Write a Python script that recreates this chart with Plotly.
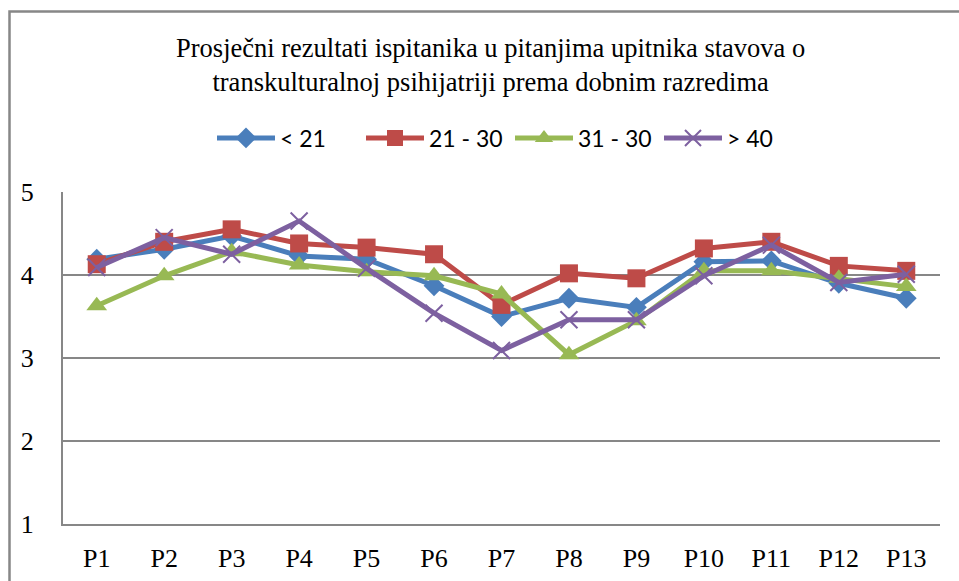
import plotly.graph_objects as go

categories = ["P1", "P2", "P3", "P4", "P5", "P6", "P7", "P8", "P9", "P10", "P11", "P12", "P13"]
series_names = ["< 21", "21 - 30", "31 - 30", "> 40"]
s_lt21 = [4.19, 4.31, 4.47, 4.23, 4.19, 3.87, 3.50, 3.72, 3.61, 4.16, 4.17, 3.90, 3.72]
s_21_30 = [4.13, 4.40, 4.55, 4.38, 4.33, 4.25, 3.64, 4.02, 3.96, 4.32, 4.40, 4.11, 4.05]
s_31_30 = [3.63, 3.99, 4.28, 4.12, 4.04, 3.99, 3.77, 3.04, 3.45, 4.05, 4.05, 3.96, 3.86]
s_gt40 = [4.09, 4.45, 4.25, 4.65, 4.08, 3.54, 3.09, 3.46, 3.46, 3.99, 4.36, 3.91, 4.01]
y_ticks = [1, 2, 3, 4, 5]
title_text = ("Prosječni rezultati ispitanika u pitanjima upitnika stavova o<br>"
              "transkulturalnoj psihijatriji prema dobnim razredima")

colors = ["#4A7EBB", "#BE4B48", "#98B954", "#7D60A0"]
symbols = ["diamond", "square", "triangle-up", "x-thin"]
sizes = [16, 18, 18, 17]
data = [s_lt21, s_21_30, s_31_30, s_gt40]

fig = go.Figure()
for name, vals, c, sym, sz in zip(series_names, data, colors, symbols, sizes):
    marker = dict(symbol=sym, size=sz, color=c)
    if sym == "x-thin":
        marker["line"] = dict(color=c, width=2)
    else:
        marker["line"] = dict(width=0)
    fig.add_trace(go.Scatter(x=categories, y=vals, name=name, mode="lines+markers",
                             line=dict(color=c, width=5), marker=marker))

W, H = 959, 581
ml, mr, mt, mb = 63, 19, 192, 57
pw, ph = W - ml - mr, H - mt - mb

def px(x):
    return (x - ml) / pw

def py(y):
    return 1 - (y - mt) / ph

grid = "#878787"
serif = "Liberation Serif, Times New Roman, serif"
fig.update_layout(
    width=W, height=H,
    margin=dict(l=ml, r=mr, t=mt, b=mb, pad=0, autoexpand=False),
    paper_bgcolor="white", plot_bgcolor="white",
    showlegend=True,
    legend=dict(orientation="h", x=px(212), y=py(138), xanchor="left", yanchor="middle",
                font=dict(family="Lato", size=23, color="black"), itemwidth=58,
                entrywidth=76, entrywidthmode="pixels",
                traceorder="normal", bgcolor="rgba(0,0,0,0)"),
    annotations=[dict(text=title_text, x=px(490), y=py(65), xref="paper", yref="paper",
                      xanchor="center", yanchor="middle", showarrow=False,
                      font=dict(family=serif, size=26.5, color="black"))],
    shapes=[dict(type="rect", xref="paper", yref="paper", x0=px(9.5), y0=-0.5, x1=1.2, y1=py(11.5),
                 line=dict(color=grid, width=2.5), layer="below")],
    xaxis=dict(type="category", range=[-0.5, len(categories) - 0.5], showgrid=False,
               showline=True, linecolor=grid, linewidth=2, ticks="", ticklabelstandoff=10,
               automargin=False,
               tickfont=dict(family=serif, size=26, color="black"), fixedrange=True),
    yaxis=dict(range=[1, 5], tickvals=y_ticks, showgrid=True, gridcolor=grid, gridwidth=2,
               showline=True, linecolor=grid, linewidth=2, ticks="", ticklabelstandoff=22,
               zeroline=False, automargin=False,
               tickfont=dict(family=serif, size=26, color="black"), fixedrange=True),
)
fig.write_html("out.html", config={"displayModeBar": False},
               post_script="document.body.style.margin='0';document.body.style.overflow='hidden';")
